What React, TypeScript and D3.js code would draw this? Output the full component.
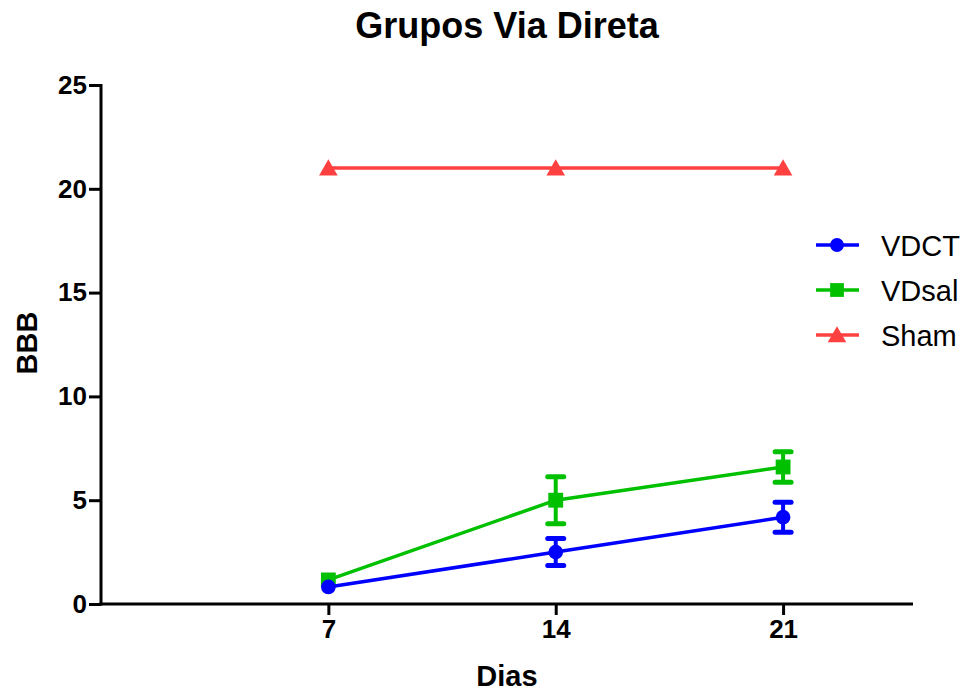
import React, { useEffect, useRef } from 'react';
import * as d3 from 'd3';

// Days on the x axis
const days = [7, 14, 21];

// Mean BBB score per group, with the SEM error bars
const vdctMean = [0.82, 2.5, 4.18];
const vdctErr = [0, 0.65, 0.72];
const vdsalMean = [1.16, 5.0, 6.6];
const vdsalErr = [0, 1.13, 0.73];
const shamMean = [21, 21, 21];
const shamErr = [0, 0, 0];

const xTicks = [7, 14, 21];
const yTicks = [0, 5, 10, 15, 20, 25];

const seriesNames = ['VDCT', 'VDsal', 'Sham'];
const seriesColors = ['#0000ff', '#00c000', '#ff4040'];
const seriesSymbols = [d3.symbolCircle, d3.symbolSquare, d3.symbolTriangle];

const App = () => {
  const ref = useRef<SVGSVGElement | null>(null);

  useEffect(() => {
    const svg = d3.select(ref.current);
    svg.selectAll('*').remove();

    const left = 101;
    const right = 913;
    const top = 85;
    const bottom = 604;
    const font = '"Liberation Sans", Arial, Helvetica, sans-serif';

    const x = d3.scaleLinear().domain([0, 25]).range([left, right]);
    const y = d3.scaleLinear().domain([0, 25]).range([bottom, top]);

    // title
    svg.append('text')
      .attr('x', 507).attr('y', 38)
      .attr('text-anchor', 'middle')
      .style('font-family', font).style('font-weight', 'bold').style('font-size', '36px')
      .text('Grupos Via Direta');

    // y axis
    const yAxis = svg.append('g')
      .attr('transform', `translate(${left},0)`)
      .call(d3.axisLeft(y).tickValues(yTicks).tickSize(12).tickPadding(2).tickFormat(d3.format('d')));
    yAxis.select('.domain').attr('stroke-width', 3).attr('d', `M0,${top - 1}V${bottom + 1.5}`);
    yAxis.selectAll('.tick line').attr('stroke-width', 3);
    yAxis.selectAll('.tick text')
      .style('font-family', font).style('font-weight', 'bold').style('font-size', '26px').attr('fill', '#000');

    // x axis
    const xAxis = svg.append('g')
      .attr('transform', `translate(0,${bottom})`)
      .call(d3.axisBottom(x).tickValues(xTicks).tickSize(11).tickPadding(5));
    xAxis.select('.domain').attr('stroke-width', 3).attr('d', `M${left - 1.5},0H${right}`);
    xAxis.selectAll('.tick line').attr('stroke-width', 3);
    xAxis.selectAll('.tick text')
      .style('font-family', font).style('font-weight', 'bold').style('font-size', '26px').attr('fill', '#000');

    // axis titles
    svg.append('text')
      .attr('x', 507).attr('y', 686)
      .attr('text-anchor', 'middle')
      .style('font-family', font).style('font-weight', 'bold').style('font-size', '29px')
      .text('Dias');
    svg.append('text')
      .attr('transform', 'translate(37,343) rotate(-90)')
      .attr('text-anchor', 'middle')
      .style('font-family', font).style('font-weight', 'bold').style('font-size', '29px')
      .text('BBB');

    const means = [vdctMean, vdsalMean, shamMean];
    const errs = [vdctErr, vdsalErr, shamErr];
    const line = d3.line<number>().x((_, i) => x(days[i])).y(d => y(d));

    // draw Sham first, then VDsal, then VDCT on top
    [2, 1, 0].forEach(s => {
      const color = seriesColors[s];
      const g = svg.append('g');
      g.append('path')
        .datum(means[s])
        .attr('d', line)
        .attr('fill', 'none')
        .attr('stroke', color)
        .attr('stroke-width', 3.5);

      means[s].forEach((m, i) => {
        const e = errs[s][i];
        if (e > 0) {
          const cx = x(days[i]);
          g.append('line')
            .attr('x1', cx).attr('x2', cx)
            .attr('y1', y(m - e)).attr('y2', y(m + e))
            .attr('stroke', color).attr('stroke-width', 4);
          [m - e, m + e].forEach(v => {
            g.append('line')
              .attr('x1', cx - 8).attr('x2', cx + 8)
              .attr('y1', y(v)).attr('y2', y(v))
              .attr('stroke', color).attr('stroke-width', 5).attr('stroke-linecap', 'round');
          });
        }
      });

      g.selectAll('path.pt')
        .data(means[s])
        .enter().append('path')
        .attr('class', 'pt')
        .attr('transform', (d, i) => `translate(${x(days[i])},${y(d) + (s === 2 ? 2 : 0)})`)
        .attr('d', d3.symbol().type(seriesSymbols[s]).size(s === 0 ? 170 : s === 1 ? 220 : 150))
        .attr('fill', color);
    });

    // legend
    seriesNames.forEach((name, i) => {
      const ly = 245 + i * 45;
      const g = svg.append('g');
      g.append('line')
        .attr('x1', 816).attr('x2', 859)
        .attr('y1', ly).attr('y2', ly)
        .attr('stroke', seriesColors[i]).attr('stroke-width', 3.5);
      g.append('path')
        .attr('transform', `translate(837,${ly + (i === 2 ? 2 : 0)})`)
        .attr('d', d3.symbol().type(seriesSymbols[i]).size(i === 0 ? 150 : i === 1 ? 190 : 150))
        .attr('fill', seriesColors[i]);
      g.append('text')
        .attr('x', 881).attr('y', ly + 11)
        .style('font-family', font).style('font-size', '29px')
        .text(name);
    });
  }, []);

  return (
    <svg
      ref={ref}
      width={970}
      height={691}
      style={{ position: 'absolute', left: 0, top: 0, background: '#fff' }}
    />
  );
};

export default App;
